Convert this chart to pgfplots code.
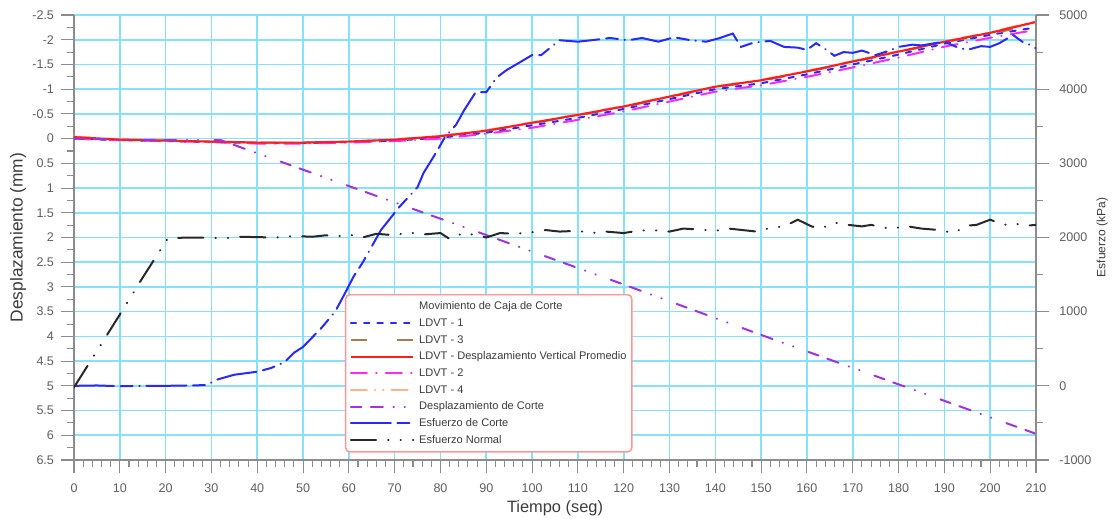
\documentclass[border=0pt]{standalone}
\usepackage{pgfplots}
\pgfplotsset{compat=1.18}
\usepackage{fontspec}
\setmainfont{Liberation Sans}
\definecolor{gridc}{RGB}{135,225,252}
\definecolor{axc}{RGB}{140,140,140}
\definecolor{tlc}{RGB}{95,95,95}
\definecolor{labc}{RGB}{60,60,60}
\definecolor{ldvta}{RGB}{40,40,255}
\definecolor{ldvtc}{RGB}{170,125,80}
\definecolor{prom}{RGB}{255,30,30}
\definecolor{ldvtb}{RGB}{255,40,255}
\definecolor{ldvtd}{RGB}{250,180,140}
\definecolor{dcorte}{RGB}{160,50,225}
\definecolor{ecorte}{RGB}{40,40,255}
\definecolor{enorm}{RGB}{40,40,40}
\definecolor{legb}{RGB}{255,150,150}
\pgfplotsset{
  common/.style={
    width=721.5pt, height=333.75pt, scale only axis,
    xmin=0, xmax=210,
    tick align=outside,
    major tick length=10pt, minor tick length=5pt,
    every tick/.style={axc, line width=0.8pt},
    axis line style={axc, line width=1.1pt, -},
    tick label style={font=\fontsize{9.4}{11}\selectfont, text=tlc},
    /pgf/number format/assume math mode=true,
    /pgf/number format/1000 sep={},
    no markers,
  },
  sLa/.style={ldvta, line width=1.5pt, line cap=round, dash pattern=on 4pt off 6pt},
  sLc/.style={ldvtc, line width=1.5pt, dash pattern=on 12pt off 23pt},
  sPr/.style={prom, line width=1.6pt, solid},
  sLb/.style={ldvtb, line width=1.5pt, line cap=round, dash pattern=on 12pt off 7pt on 0.3pt off 7pt},
  sLd/.style={ldvtd, line width=1.5pt, line cap=round, dash pattern=on 12pt off 6pt on 0.3pt off 6pt on 0.3pt off 6pt},
  sDc/.style={dcorte, line width=1.5pt, line cap=round, dash pattern=on 8pt off 7pt on 9pt off 8pt on 0.3pt off 8pt on 0.3pt off 12pt},
  sEc/.style={ecorte, line width=1.5pt, line cap=round, dash pattern=on 30pt off 5pt on 9pt off 5pt on 0.3pt off 5pt},
  sEn/.style={enorm, line width=1.5pt, line cap=round, dash pattern=on 19pt off 9pt on 0.3pt off 9pt on 0.3pt off 9pt},
}
\begin{document}
\begin{tikzpicture}
\useasboundingbox (-55.5pt,-43.5pt) rectangle (783pt,345pt);
\begin{axis}[common,
  axis x line*=bottom, axis y line*=left,
  xtick={0,10,...,210}, minor x tick num=4,
  ymin=-2.5, ymax=6.5, y dir=reverse,
  ytick={-2.5,-2,...,6.5}, minor y tick num=1,
  grid=major, major grid style={gridc, line width=1.2pt},
  xticklabel style={yshift=-4.5pt},
  yticklabel style={xshift=-1.5pt},
  xlabel={Tiempo (seg)}, ylabel={Desplazamiento (mm)},
  xlabel style={font=\fontsize{12.3}{14}\selectfont, text=labc, at={(axis description cs:0.5,-0.109)}, anchor=center},
  ylabel style={font=\fontsize{13}{15}\selectfont, text=labc, at={(axis description cs:-0.058,0.5)}, anchor=center},
]
% LDVT - 1
\addplot[sLa] coordinates {(0,0.0) (10,0.03) (20,0.05) (30,0.07) (40,0.09) (50,0.09) (60,0.07) (70,0.04) (80,-0.02) (90,-0.12) (100,-0.27) (110,-0.42) (120,-0.6) (130,-0.8) (140,-1.0) (150,-1.12) (160,-1.3) (170,-1.5) (180,-1.7) (190,-1.92) (200,-2.1) (210,-2.25)};
% LDVT - 3
\addplot[sLc] coordinates {(0,-0.03) (10,0.02) (20,0.04) (30,0.06) (40,0.08) (50,0.08) (60,0.06) (70,0.02) (80,-0.05) (90,-0.16) (100,-0.31) (110,-0.47) (120,-0.64) (130,-0.84) (140,-1.04) (150,-1.17) (160,-1.35) (170,-1.55) (180,-1.75) (190,-1.95) (200,-2.12) (210,-2.31)};
% LDVT - 4
\addplot[sLd] coordinates {(0,-0.04) (10,0.01) (20,0.04) (30,0.06) (40,0.08) (50,0.08) (60,0.06) (70,0.02) (80,-0.06) (90,-0.17) (100,-0.33) (110,-0.49) (120,-0.66) (130,-0.86) (140,-1.06) (150,-1.19) (160,-1.37) (170,-1.57) (180,-1.77) (190,-1.97) (200,-2.15) (210,-2.38)};
% LDVT - 2
\addplot[sLb] coordinates {(0,0.0) (10,0.03) (20,0.05) (30,0.07) (40,0.1) (50,0.1) (60,0.08) (70,0.05) (80,0.0) (90,-0.1) (100,-0.22) (110,-0.38) (120,-0.55) (130,-0.75) (140,-0.95) (150,-1.08) (160,-1.25) (170,-1.44) (180,-1.64) (190,-1.86) (200,-2.04) (210,-2.2)};
% Promedio
\addplot[sPr] coordinates {(0,-0.03) (10,0.02) (20,0.04) (30,0.06) (40,0.08) (50,0.08) (60,0.06) (70,0.02) (80,-0.05) (90,-0.16) (100,-0.32) (110,-0.48) (120,-0.65) (130,-0.85) (140,-1.05) (150,-1.18) (160,-1.36) (170,-1.56) (180,-1.76) (190,-1.96) (200,-2.14) (210,-2.36)};
% Desplazamiento de Corte
\addplot[sDc] coordinates {(0,0.0) (10,0.02) (20,0.03) (32,0.03) (60,0.96) (90,1.95) (120,2.95) (150,3.97) (180,4.97) (210,5.97)};
\end{axis}
\begin{axis}[common,
  axis x line=none, axis y line*=right,
  ymin=-1000, ymax=5000, ytick={-1000,0,...,5000}, minor y tick num=1,
  yticklabel style={xshift=4pt},
  ylabel={Esfuerzo (kPa)},
  ylabel style={font=\fontsize{9}{11}\selectfont, text=labc, at={(axis description cs:1.069,0.5)}, anchor=center},
  legend cell align=left,
  legend style={at={(axis description cs:0.2817,0.373)}, anchor=north west,
    draw=legb, line width=1.1pt, rounded corners=3pt, fill=white,
    font=\fontsize{8.3}{10}\selectfont, text=labc, row sep=2.7pt,
    inner xsep=3pt, inner ysep=4pt,
    nodes={inner sep=1pt, text height=6.2pt, text depth=1.6pt},
    /tikz/every odd column/.append style={column sep=2.5pt},
    /tikz/every even column/.append style={column sep=4pt}},
  legend image code/.code={\draw[#1] (0pt,0pt) -- (47pt,0pt);},
]
\addlegendimage{empty legend}
\addlegendentry{Movimiento de Caja de Corte}
\addlegendimage{sLa}\addlegendentry{LDVT - 1}
\addlegendimage{sLc}\addlegendentry{LDVT - 3}
\addlegendimage{sPr}\addlegendentry{LDVT - Desplazamiento Vertical Promedio}
\addlegendimage{sLb}\addlegendentry{LDVT - 2}
\addlegendimage{sLd}\addlegendentry{LDVT - 4}
\addlegendimage{sDc}\addlegendentry{Desplazamiento de Corte}
% Esfuerzo de Corte
\addplot[sEc] coordinates {(0,0) (5,5) (10,-5) (15,0) (20,0) (25,5) (29,10) (31,80) (35,150) (40,190) (43,240) (46,320) (48,445) (50,525) (54,780) (57,1000) (59,1230) (61,1470) (63,1660) (65,1880) (67,2100) (71,2410) (75,2680) (76.3,2870) (79,3140) (81,3355) (83.4,3520) (85.2,3720) (87.7,3960) (90,3960) (92.3,4160) (94.5,4260) (97,4350) (100,4460) (102,4460) (106,4660) (110,4640) (113,4660) (117,4690) (121,4660) (124,4690) (127.6,4640) (131,4700) (134.6,4660) (138,4640) (141,4690) (143.8,4750) (145.6,4570) (148,4620) (150,4640) (152,4650) (155,4570) (158,4560) (160,4530) (162,4620) (164,4540) (166,4450) (168,4500) (170,4490) (172,4520) (175,4460) (178,4520) (180,4570) (183,4600) (185,4590) (188,4620) (190,4640) (193,4560) (195,4530) (198,4580) (200,4570) (202,4620) (205,4730) (207,4640) (208,4620) (210,4550)};
\addlegendentry{Esfuerzo de Corte}
% Esfuerzo Normal
\addplot[sEn] coordinates {(0,-20) (5,470) (10,960) (15,1460) (20.5,1990) (25,2000) (30,1995) (33,1990) (36,2010) (40,2005) (44,2000) (48,2020) (52,2010) (55,2030) (58,2020) (60,2040) (63,2000) (66,2050) (70,2030) (73,2070) (76,2040) (80,2060) (82,1980) (85,2060) (88,2030) (90,2000) (93,2060) (96,2050) (100,2070) (103,2100) (106,2080) (110,2090) (113,2060) (116,2080) (120,2060) (123,2090) (126,2100) (130,2080) (133,2120) (136,2110) (140,2090) (143,2120) (146,2100) (149,2080) (152,2130) (155,2150) (158,2240) (161,2150) (163,2120) (166,2200) (169,2170) (172,2150) (174,2170) (178,2120) (182,2150) (185,2120) (189,2100) (192,2060) (195,2160) (197,2170) (200,2240) (203,2170) (205,2190) (208,2160) (210,2170)};
\addlegendentry{Esfuerzo Normal}
\end{axis}
\end{tikzpicture}
\end{document}
